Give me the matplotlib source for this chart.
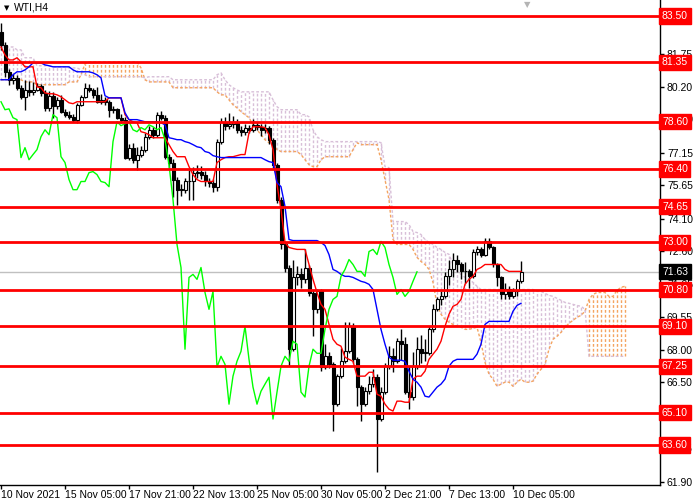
import numpy as np
import matplotlib
matplotlib.use('Agg')
import matplotlib.pyplot as plt

plt.rcParams['font.family'] = ['Liberation Sans', 'DejaVu Sans']

# WTI H4 bars, 10 Nov - 10 Dec 2021 (open of a bar = close of the bar before)
first_open = 82.76
closes = [82.16, 80.91, 80.54, 80.63, 80.17, 79.75, 80.07, 79.98, 80.07, 80.26,
          79.93, 79.24, 79.80, 79.33, 79.61, 79.06, 78.92, 78.82, 78.69, 79.38,
          79.75, 80.17, 80.07, 79.84, 79.52, 79.61, 79.52, 79.15, 79.19, 78.78,
          78.69, 76.93, 77.39, 76.83, 77.07, 77.30, 77.90, 78.22, 77.99, 78.92,
          78.78, 76.97, 76.70, 75.91, 75.44, 75.44, 75.82, 75.82, 76.23, 76.28,
          76.14, 75.82, 75.77, 75.58, 77.67, 78.59, 78.41, 78.50, 78.59, 78.22,
          78.13, 78.32, 78.22, 78.45, 78.36, 78.22, 78.32, 77.76, 76.60, 74.98,
          72.90, 71.83, 68.04, 71.37, 71.51, 71.28, 71.83, 70.67, 69.89, 70.72,
          67.21, 67.71, 67.34, 65.49, 66.79, 67.48, 67.94, 69.10, 67.57, 66.28,
          65.49, 66.09, 66.42, 66.74, 64.80, 66.05, 67.25, 67.71, 67.48, 68.41,
          68.27, 66.05, 65.82, 67.25, 68.04, 67.85, 67.85, 68.96, 69.89, 70.35,
          70.49, 71.42, 71.74, 72.20, 71.97, 71.65, 71.65, 71.42, 72.57, 72.67,
          72.43, 73.04, 72.76, 71.97, 71.37, 70.58, 70.81, 70.49, 70.72, 71.19,
          71.63]
highs = [83.18, 82.30, 81.05, 80.80, 80.75, 80.30, 80.54, 80.50, 80.45, 80.40,
         80.35, 80.05, 80.00, 79.95, 79.75, 79.85, 79.20, 79.10, 78.95, 79.45,
         79.85, 80.40, 80.35, 80.15, 80.20, 79.90, 79.75, 79.60, 79.30, 79.25,
         78.95, 78.80, 77.55, 77.60, 77.40, 77.45, 78.05, 78.40, 78.35, 79.05,
         79.10, 78.92, 77.10, 76.85, 76.05, 75.70, 76.00, 76.37, 76.50, 76.60,
         76.55, 76.30, 76.00, 75.95, 77.80, 78.78, 78.80, 79.01, 78.85, 78.70,
         78.40, 78.50, 78.45, 78.70, 78.60, 78.50, 78.50, 78.40, 77.85, 76.70,
         75.10, 73.00, 71.95, 72.20, 71.90, 71.80, 72.67, 71.95, 70.80, 70.85,
         70.85, 68.30, 67.90, 67.45, 66.90, 68.10, 69.29, 69.29, 69.25, 67.70,
         66.40, 66.30, 66.79, 67.10, 66.90, 66.30, 67.40, 68.20, 68.10, 68.55,
         68.96, 68.60, 67.25, 67.90, 68.60, 68.70, 68.50, 69.10, 70.12, 70.45,
         70.75, 71.60, 72.20, 72.50, 72.40, 72.10, 72.10, 71.75, 72.70, 72.85,
         72.80, 73.18, 73.18, 72.85, 72.05, 71.45, 71.10, 70.95, 70.90, 71.30,
         72.11]
lows = [81.90, 80.68, 80.30, 80.35, 80.05, 79.65, 79.15, 79.80, 79.85, 80.00,
        79.80, 79.10, 79.10, 78.78, 79.20, 79.00, 78.80, 78.70, 78.60, 78.55,
        79.30, 79.70, 79.95, 79.70, 79.45, 79.40, 79.35, 78.82, 79.00, 78.70,
        78.55, 76.85, 76.80, 76.70, 76.37, 76.95, 77.20, 77.80, 77.85, 77.90,
        78.65, 76.85, 76.37, 75.12, 74.75, 75.15, 75.30, 74.98, 74.98, 76.00,
        75.95, 75.60, 75.55, 75.31, 75.40, 77.55, 78.20, 78.25, 78.30, 78.05,
        77.95, 78.00, 78.05, 78.10, 78.20, 77.95, 78.05, 77.55, 76.45, 74.80,
        72.67, 71.60, 67.25, 67.95, 71.00, 70.90, 71.10, 70.50, 68.64, 69.70,
        67.05, 67.10, 67.15, 64.24, 65.40, 66.70, 67.40, 67.85, 67.40, 65.40,
        64.70, 65.40, 65.95, 66.30, 62.34, 64.70, 65.95, 67.10, 67.00, 67.40,
        67.55, 65.95, 65.26, 65.70, 67.10, 67.40, 67.50, 67.75, 68.85, 69.80,
        70.10, 70.40, 71.00, 71.40, 71.60, 71.30, 71.10, 70.90, 71.35, 72.40,
        72.30, 72.35, 72.67, 71.85, 70.98, 70.35, 70.35, 70.35, 70.40, 70.50,
        71.10]

# Ichimoku lines
tenkan = [82.06, 81.69, 81.46, 81.46, 81.56, 81.37, 81.14, 81.14, 81.14, 80.21,
          80.17, 79.93, 79.89, 79.89, 79.84, 79.75, 79.61, 79.47, 79.43, 79.52,
          79.52, 79.52, 79.52, 79.52, 79.52, 79.52, 79.52, 79.70, 79.70, 79.70,
          79.70, 78.92, 78.69, 78.59, 78.55, 78.13, 78.08, 77.99, 77.85, 77.85,
          77.85, 77.85, 77.53, 77.21, 76.97, 76.97, 76.97, 76.51, 76.14, 75.91,
          75.82, 75.82, 75.82, 75.82, 76.70, 76.83, 76.93, 76.97, 76.97, 77.02,
          77.07, 77.07, 78.08, 78.36, 78.36, 78.36, 78.32, 77.99, 77.30, 75.68,
          74.52, 72.99, 72.76, 72.71, 72.67, 72.67, 72.67, 71.97, 71.28, 70.67,
          70.12, 69.89, 69.19, 68.50, 68.27, 68.18, 67.67, 67.57, 67.48, 66.79,
          66.79, 66.79, 66.97, 66.97, 65.95, 65.86, 65.49, 65.26, 65.17, 65.63,
          65.63, 65.58, 65.58, 66.65, 66.79, 66.79, 67.02, 67.57, 67.81, 68.04,
          68.41, 69.10, 69.66, 70.03, 70.12, 70.35, 71.05, 71.28, 71.42, 71.74,
          71.83, 71.97, 71.97, 71.97, 71.97, 71.97, 71.74, 71.65, 71.65, 71.65,
          71.65]
kijun = [80.54, 80.54, 80.54, 80.77, 80.91, 80.91, 81.00, 81.14, 81.32, 81.32,
         81.32, 81.23, 81.19, 81.14, 81.14, 81.14, 81.14, 81.14, 81.00, 80.91,
         80.91, 80.91, 80.91, 80.86, 80.77, 80.63, 79.80, 79.70, 79.70, 79.70,
         79.70, 79.01, 78.69, 78.69, 78.69, 78.64, 78.59, 78.59, 78.59, 78.59,
         78.55, 78.45, 77.85, 77.81, 77.76, 77.76, 77.67, 77.62, 77.53, 77.43,
         77.39, 77.21, 77.16, 77.02, 76.97, 76.93, 76.93, 76.93, 76.93, 76.93,
         76.93, 76.93, 76.93, 76.93, 76.93, 76.93, 76.83, 76.74, 76.70, 75.77,
         75.58, 74.66, 73.13, 73.08, 73.08, 73.08, 73.08, 73.08, 73.08, 73.08,
         72.99, 72.85, 72.43, 71.74, 71.65, 71.51, 71.42, 71.42, 71.37, 71.28,
         71.19, 71.14, 71.05, 70.81, 69.89, 68.96, 68.27, 67.67, 67.53, 67.53,
         67.53, 67.48, 67.02, 66.65, 66.51, 66.28, 65.86, 65.82, 66.05, 66.28,
         66.42, 66.65, 67.25, 67.48, 67.57, 67.57, 67.57, 67.57, 67.57, 67.81,
         68.27, 69.19, 69.33, 69.33, 69.33, 69.33, 69.33, 69.33, 69.80, 70.07,
         70.17]
span_a = [80.54, 80.54, 80.54, 80.54, 80.54, 80.54, 80.44, 80.44, 80.44, 80.31,
          80.31, 80.31, 80.31, 80.31, 80.31, 80.31, 80.31, 80.44, 80.44, 80.44,
          80.77, 81.28, 81.37, 81.37, 81.37, 81.37, 81.37, 81.37, 81.37, 81.37,
          81.37, 81.37, 81.37, 81.37, 81.37, 81.09, 80.54, 80.44, 80.44, 80.44,
          80.44, 80.44, 80.44, 80.17, 80.17, 80.17, 80.17, 80.17, 80.17, 80.17,
          80.17, 80.17, 80.17, 80.17, 79.98, 79.84, 79.84, 79.61, 79.38, 79.24,
          79.06, 78.92, 78.78, 78.45, 78.22, 77.99, 77.76, 77.62, 77.53, 77.30,
          77.21, 77.21, 77.21, 77.21, 77.21, 77.07, 76.83, 76.60, 76.51, 76.51,
          76.83, 76.97, 76.97, 76.97, 76.97, 76.97, 76.97, 76.97, 77.30, 77.62,
          77.53, 77.53, 77.53, 77.53, 77.53, 76.83, 75.91, 74.98, 73.13, 72.90,
          72.90, 72.90, 72.90, 72.67, 72.30, 72.11, 71.97, 71.74, 71.14, 70.12,
          69.66, 69.43, 69.29, 69.19, 69.10, 69.06, 68.96, 68.96, 69.01, 69.06,
          68.36, 67.43, 66.88, 66.65, 66.32, 66.42, 66.51, 66.51, 66.32, 66.51,
          66.65, 66.51, 66.51, 66.56, 66.88, 67.11, 67.34, 68.04, 68.50, 68.64,
          68.82, 69.06, 69.24, 69.38, 69.52, 69.61, 69.80, 70.35, 70.58, 70.67,
          70.67, 70.67, 70.49, 70.49, 70.77, 70.91, 70.96]
span_b = [82.06, 82.06, 82.06, 82.06, 81.93, 81.93, 81.56, 81.56, 81.56, 81.19,
          81.19, 81.19, 81.19, 81.14, 81.14, 81.14, 81.14, 81.09, 81.09, 81.09,
          81.00, 80.77, 80.68, 80.68, 80.68, 80.68, 80.68, 80.68, 80.68, 80.68,
          80.68, 80.68, 80.68, 80.68, 80.68, 80.68, 80.63, 80.68, 80.68, 80.68,
          80.68, 80.68, 80.68, 80.54, 80.54, 80.54, 80.54, 80.54, 80.54, 80.54,
          80.54, 80.54, 80.54, 80.54, 80.77, 80.86, 80.54, 80.31, 80.17, 80.07,
          79.98, 79.98, 79.98, 79.98, 79.98, 79.98, 79.98, 79.98, 79.61, 79.29,
          79.15, 79.15, 79.15, 79.15, 79.15, 78.92, 78.92, 78.82, 78.22, 77.90,
          77.76, 77.67, 77.67, 77.67, 77.67, 77.67, 77.67, 77.67, 77.67, 77.67,
          77.67, 77.67, 77.67, 77.67, 77.67, 77.62, 76.51, 76.46, 73.96, 73.96,
          73.96, 73.96, 73.82, 73.50, 73.45, 73.36, 73.13, 72.99, 72.90, 72.76,
          72.67, 72.53, 72.44, 71.97, 71.65, 71.51, 71.37, 71.28, 71.14, 70.96,
          70.81, 70.81, 70.81, 70.81, 70.81, 70.81, 70.81, 70.81, 70.81, 70.81,
          70.81, 70.81, 70.81, 70.81, 70.72, 70.72, 70.63, 70.54, 70.49, 70.40,
          70.31, 70.21, 70.17, 70.12, 70.07, 70.03, 69.89, 67.71, 67.71, 67.71,
          67.71, 67.71, 67.71, 67.71, 67.71, 67.71, 67.71]
chikou_shift = 26

levels = [83.50, 81.35, 78.60, 76.40, 74.65, 73.00, 70.80, 69.10, 67.25, 65.10, 63.60]
last_price = 71.63
price_ticks = [83.25, 81.75, 80.20, 78.70, 77.15, 75.65, 74.10, 72.60, 71.05,
               69.55, 68.00, 66.50, 64.95, 63.45, 61.90]
date_pos = [0, 16, 32, 48, 64, 80, 96, 112, 128]
date_labels = ['10 Nov 2021', '15 Nov 05:00', '17 Nov 21:00', '22 Nov 13:00',
               '25 Nov 05:00', '30 Nov 05:00', '2 Dec 21:00', '7 Dec 13:00',
               '10 Dec 05:00']

fig = plt.figure(figsize=(7, 5), dpi=100)
ax = fig.add_axes([0, 15 / 500, 660 / 700, 485 / 500])

#Cloud: vertical dotted hatching between the two spans
dots = (0, (2, 1.5))
a = np.array(span_a)
b = np.array(span_b)
xs = np.arange(len(a))
bull = a >= b
ax.vlines(xs[~bull], a[~bull], b[~bull], colors='#D8BFD8', linestyles=dots, lw=1, zorder=1)
ax.vlines(xs[bull], b[bull], a[bull], colors='#F4A460', linestyles=dots, lw=1, zorder=1)
ax.plot(xs, a, color='#F4A460', ls=dots, lw=1, zorder=1)
ax.plot(xs, b, color='#D8BFD8', ls=dots, lw=1, zorder=1)

ax.axhline(last_price, color='#c0c0c0', lw=1, zorder=0.5)

#Candles
opens = [first_open] + closes[:-1]
for i, (o, c, h, l) in enumerate(zip(opens, closes, highs, lows)):
    hi = max(h, o, c)
    lo = min(l, o, c)
    ax.vlines(i, lo, hi, color='black', lw=1, zorder=3)
    body = max(abs(c - o), 0.04)
    ax.bar(i, body, bottom=min(o, c), width=0.75,
           color='white' if c >= o else 'black', edgecolor='black', lw=0.8, zorder=4)

#Ichimoku lines
ax.plot(np.arange(len(tenkan)), tenkan, color='red', lw=1, zorder=5)
ax.plot(np.arange(len(kijun)), kijun, color='blue', lw=1, zorder=5)
ch = np.arange(chikou_shift, len(closes))
ax.plot(ch - chikou_shift, [closes[i] for i in ch], color='#00ff00', lw=1, zorder=5)

#Levels
for lv in levels:
    ax.axhline(lv, color='red', lw=2, zorder=6)
    ax.text(1.003, lv, '%.2f' % lv, transform=ax.get_yaxis_transform(), color='white',
            fontsize=7.5, va='center', ha='left', clip_on=False, zorder=7,
            bbox=dict(boxstyle='square,pad=0.25', fc='red', ec='red'))
ax.text(1.003, last_price, '%.2f' % last_price, transform=ax.get_yaxis_transform(),
        color='white', fontsize=7.5, va='center', ha='left', clip_on=False, zorder=7,
        bbox=dict(boxstyle='square,pad=0.25', fc='black', ec='black'))

#Axes
ax.set_xlim(-0.25, 164.75)
ax.set_ylim(61.74, 84.24)
ax.yaxis.tick_right()
ax.set_yticks(price_ticks)
ax.set_yticklabels(['%.2f' % t for t in price_ticks])
ax.set_xticks(date_pos)
ax.set_xticklabels(date_labels, ha='left')
ax.tick_params(axis='y', length=3, pad=2, labelsize=7.5, width=1)
ax.tick_params(axis='x', length=3, pad=0.5, labelsize=7.5, width=1)
for s in ['top', 'left']:
    ax.spines[s].set_visible(False)
ax.spines['right'].set_linewidth(1)
ax.spines['bottom'].set_linewidth(1)

fig.text(4 / 700, 1 - 8 / 500, '\u25bc', fontsize=5, va='center', ha='left',
         family='DejaVu Sans')
fig.text(14 / 700, 1 - 7 / 500, 'WTI,H4', fontsize=7.5, va='center', ha='left')
fig.text(527 / 700, 1 - 5 / 500, '\u25bc', fontsize=6, color='#b4b4b4', va='center',
         ha='center', family='DejaVu Sans')

fig.savefig('out.png', dpi=100)
